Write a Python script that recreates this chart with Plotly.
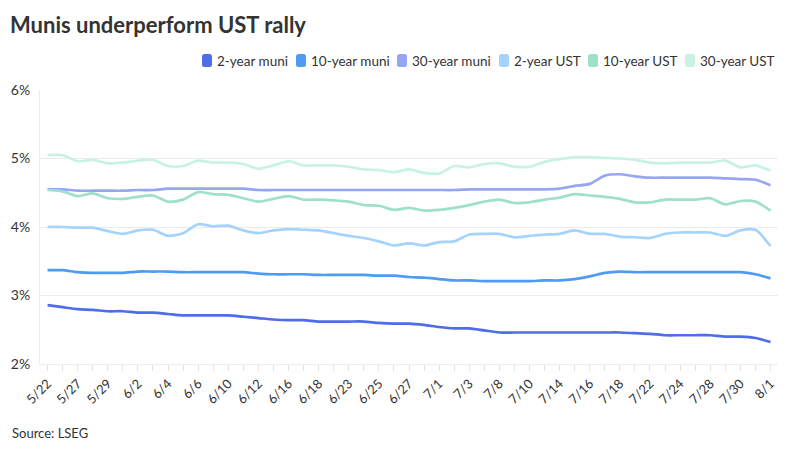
import plotly.graph_objects as go

dates = ["5/22","5/23","5/27","5/28","5/29","5/30","6/2","6/3","6/4","6/5","6/6","6/9","6/10","6/11","6/12","6/13",
         "6/16","6/17","6/18","6/20","6/23","6/24","6/25","6/26","6/27","6/30","7/1","7/2","7/3","7/7","7/8","7/9",
         "7/10","7/11","7/14","7/15","7/16","7/17","7/18","7/21","7/22","7/23","7/24","7/25","7/28","7/29","7/30","7/31","8/1"]

muni_2y = [2.86,2.83,2.80,2.79,2.77,2.77,2.75,2.75,2.73,2.71,2.71,2.71,2.71,2.69,2.67,
           2.65,2.64,2.64,2.62,2.62,2.62,2.62,2.60,2.59,2.59,2.57,2.54,2.52,2.52,2.49,2.46,2.46,2.46,
           2.46,2.46,2.46,2.46,2.46,2.46,2.45,2.44,2.42,2.42,2.42,2.42,2.40,2.40,2.38,2.32]
muni_10y = [3.37,3.37,3.34,3.33,3.33,3.33,3.35,3.35,3.35,3.34,3.34,3.34,3.34,3.34,3.32,
            3.31,3.31,3.31,3.30,3.30,3.30,3.30,3.29,3.29,3.27,3.26,3.24,3.22,3.22,3.21,3.21,3.21,3.21,
            3.22,3.22,3.24,3.28,3.33,3.35,3.34,3.34,3.34,3.34,3.34,3.34,3.34,3.34,3.31,3.25]
muni_30y = [4.55,4.55,4.53,4.53,4.53,4.53,4.54,4.54,4.56,4.56,4.56,4.56,4.56,4.56,4.54,
            4.54,4.54,4.54,4.54,4.54,4.54,4.54,4.54,4.54,4.54,4.54,4.54,4.54,4.55,4.55,4.55,4.55,4.55,
            4.55,4.56,4.60,4.63,4.75,4.77,4.74,4.72,4.72,4.72,4.72,4.72,4.71,4.70,4.69,4.61]
ust_2y = [4.00,4.00,3.99,3.99,3.94,3.90,3.95,3.96,3.87,3.91,4.04,4.01,4.02,3.95,3.91,
          3.95,3.97,3.96,3.95,3.91,3.87,3.84,3.79,3.73,3.76,3.73,3.78,3.79,3.89,3.90,3.90,3.85,3.87,
          3.89,3.90,3.95,3.90,3.90,3.86,3.85,3.84,3.90,3.92,3.92,3.92,3.87,3.95,3.96,3.72]
ust_10y = [4.54,4.52,4.45,4.49,4.42,4.41,4.44,4.46,4.37,4.40,4.51,4.48,4.47,4.42,4.37,
           4.41,4.45,4.40,4.40,4.39,4.37,4.32,4.31,4.25,4.28,4.24,4.25,4.28,4.32,4.37,4.40,4.35,4.36,
           4.40,4.43,4.48,4.46,4.44,4.41,4.36,4.36,4.40,4.40,4.40,4.42,4.33,4.38,4.37,4.24]
ust_30y = [5.05,5.05,4.96,4.98,4.93,4.94,4.97,4.98,4.89,4.89,4.97,4.94,4.94,4.92,4.85,
           4.90,4.96,4.90,4.90,4.90,4.88,4.84,4.83,4.80,4.84,4.79,4.78,4.89,4.87,4.92,4.93,4.88,4.88,
           4.95,4.99,5.02,5.02,5.01,5.00,4.98,4.94,4.93,4.94,4.94,4.94,4.97,4.87,4.90,4.82]

series_names = ["2-year muni", "10-year muni", "30-year muni", "2-year UST", "10-year UST", "30-year UST"]
series_values = [muni_2y, muni_10y, muni_30y, ust_2y, ust_10y, ust_30y]
colors = ["#4f6de8", "#4d9cf2", "#97a6f2", "#a6d3fb", "#9fe0c9", "#c8f3e4"]

y_ticks = [2, 3, 4, 5, 6]
y_tick_text = ["2%", "3%", "4%", "5%", "6%"]
x_tick_text = [d if i % 2 == 0 else "" for i, d in enumerate(dates)]

FONT = "Lato, 'Open Sans', sans-serif"
W, H = 800, 450
OFF = 8  # page offset of the figure inside the browser window
# plot area in window pixels: x 40..778, y 90..364
ML, MT = 40 - OFF, 90 - OFF
MR = W - (778 - OFF)
MB = H - (364 - OFF)
PW, PH = W - ML - MR, H - MT - MB


def px_x(p):
    return (p - OFF - ML) / PW


def px_y(p):
    return (H - MB - (p - OFF)) / PH


def rounded_rect(x0p, x1p, ytop, ybot, r=2.5):
    x0, x1 = px_x(x0p), px_x(x1p)
    y1, y0 = px_y(ytop), px_y(ybot)
    rx, ry = r / PW, r / PH
    return (f"M {x0+rx},{y0} L {x1-rx},{y0} Q {x1},{y0} {x1},{y0+ry} "
            f"L {x1},{y1-ry} Q {x1},{y1} {x1-rx},{y1} L {x0+rx},{y1} "
            f"Q {x0},{y1} {x0},{y1-ry} L {x0},{y0+ry} Q {x0},{y0} {x0+rx},{y0} Z")


fig = go.Figure()
for name, vals, col in zip(series_names, series_values, colors):
    fig.add_trace(go.Scatter(
        x=dates, y=vals, name=name, mode="lines",
        line=dict(color=col, width=2.7, shape="spline", smoothing=0.7),
        showlegend=False, hoverinfo="x+y+name",
    ))

# legend drawn as keys + labels, right-aligned above the plot
legend_key_left = [202, 296, 397, 499, 588, 685]
shapes = []
annotations = []
for name, col, kx in zip(series_names, colors, legend_key_left):
    shapes.append(dict(type="path", xref="paper", yref="paper",
                       path=rounded_rect(kx, kx + 10, 54, 67),
                       fillcolor=col, line=dict(width=0), layer="above"))
    annotations.append(dict(text=name, xref="paper", yref="paper", x=px_x(kx + 13), y=px_y(60.5),
                            xanchor="left", yanchor="middle", showarrow=False,
                            font=dict(size=13.5, color="#333333", family=FONT)))
annotations.append(dict(text="Source: LSEG", xref="paper", yref="paper", x=px_x(10), y=px_y(433),
                        xanchor="left", yanchor="middle", showarrow=False,
                        font=dict(size=13, color="#333333", family=FONT)))

fig.update_layout(
    width=W, height=H,
    margin=dict(l=ML, r=MR, t=MT, b=MB, autoexpand=False),
    paper_bgcolor="white", plot_bgcolor="white",
    font=dict(family=FONT, color="#333333", size=13),
    title=dict(text="<b>Munis underperform UST rally</b>", x=(10 - OFF) / W, xanchor="left", xref="container",
               y=1 - (25 - OFF) / H, yanchor="middle", yref="container",
               font=dict(size=22, color="#333333", family=FONT)),
    showlegend=False,
    shapes=shapes,
    annotations=annotations,
)

fig.update_xaxes(
    type="category", categoryorder="array", categoryarray=dates,
    range=[-0.5, len(dates) - 0.5], automargin=False,
    tickmode="array", tickvals=dates, ticktext=x_tick_text,
    tickangle=-45, ticks="outside", ticklen=6, tickcolor="#e3e3e3",
    showgrid=False, showline=True, linecolor="#ececec", linewidth=1,
    tickfont=dict(size=13, color="#333333"), zeroline=False,
)
fig.update_yaxes(
    range=[2, 6], tickmode="array", tickvals=y_ticks, ticktext=y_tick_text,
    automargin=False, ticklabelstandoff=6,
    showgrid=True, gridcolor="#ececec", gridwidth=1,
    showline=True, linecolor="#ececec", linewidth=1,
    ticks="", tickfont=dict(size=14, color="#333333"), zeroline=False,
)

fig.write_html("out.html")
